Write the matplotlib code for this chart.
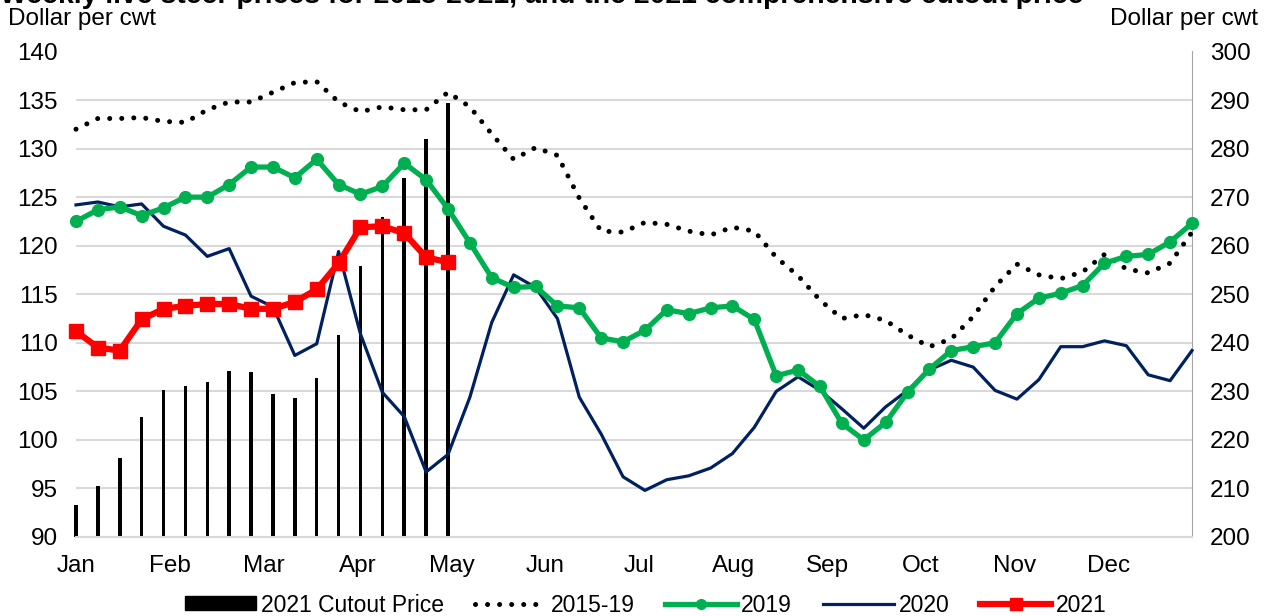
import matplotlib
matplotlib.use("Agg")

import numpy as np
import matplotlib.pyplot as plt
from matplotlib.lines import Line2D
from matplotlib.patches import Patch

plt.rcParams["font.family"] = ["Liberation Sans", "DejaVu Sans"]

# weekly values, week 1..52
avg_2015_19 = [132.0, 133.1, 133.1, 133.2, 132.8, 132.7, 134.0, 134.8, 134.8, 135.8,
               136.8, 136.9, 134.8, 133.8, 134.3, 134.0, 134.0, 135.8, 134.3, 131.5,
               128.9, 130.1, 129.3, 124.9, 121.5, 121.4, 122.4, 122.2, 121.5, 121.1,
               121.9, 121.5, 118.8, 116.9, 114.4, 112.5, 112.9, 112.3, 110.8, 109.6,
               110.4, 112.7, 115.8, 118.1, 117.0, 116.6, 117.3, 119.1, 117.6, 117.2,
               118.2, 121.4]
y2019 = [122.5, 123.7, 124.0, 123.1, 123.9, 125.0, 125.0, 126.3, 128.1, 128.1,
         127.0, 128.9, 126.3, 125.3, 126.1, 128.5, 126.8, 123.8, 120.3, 116.7,
         115.7, 115.8, 113.8, 113.6, 110.5, 110.1, 111.3, 113.4, 113.0, 113.6,
         113.8, 112.4, 106.6, 107.2, 105.5, 101.7, 100.0, 101.8, 104.9, 107.3,
         109.2, 109.6, 110.0, 113.0, 114.6, 115.1, 115.9, 118.2, 118.9, 119.1,
         120.4, 122.3]
y2020 = [124.2, 124.5, 124.0, 124.3, 122.0, 121.1, 118.9, 119.7, 114.8, 113.7,
         108.7, 109.9, 119.4, 110.9, 104.9, 102.4, 96.7, 98.5, 104.4, 112.1,
         117.0, 115.7, 112.5, 104.4, 100.6, 96.2, 94.8, 95.9, 96.3, 97.1,
         98.6, 101.3, 105.0, 106.5, 105.1, 103.2, 101.2, 103.4, 105.1, 107.2,
         108.2, 107.5, 105.1, 104.2, 106.2, 109.6, 109.6, 110.2, 109.7, 106.7,
         106.1, 109.2]
y2021 = [111.2, 109.5, 109.2, 112.4, 113.5, 113.8, 114.0, 114.0, 113.5, 113.5,
         114.2, 115.5, 118.2, 121.9, 122.0, 121.3, 118.8, 118.3]
cutout_2021 = [206.5, 210.5, 216.2, 224.7, 230.3, 231.0, 231.9, 234.1, 234.0, 229.4,
               228.6, 232.8, 241.7, 255.8, 265.9, 273.9, 281.9, 289.4]

months = ["Jan", "Feb", "Mar", "Apr", "May", "Jun",
          "Jul", "Aug", "Sep", "Oct", "Nov", "Dec"]

weeks = np.arange(len(y2019))
weeks21 = np.arange(len(y2021))

green = "#00B050"
navy = "#002060"
red = "#FF0000"
grid_c = "#D9D9D9"
fs = 17.5

fig = plt.figure(figsize=(12.64, 6.16), dpi=100)
ax2 = fig.add_axes([76 / 1264, 1 - 537 / 616, (1192 - 76) / 1264, (537 - 51.5) / 616])
ax = ax2.twinx()
# ax: left axis (lines) on top, ax2: right axis (bars) underneath
ax2.yaxis.tick_right()
ax.yaxis.tick_left()
ax.set_zorder(ax2.get_zorder() + 1)
ax.patch.set_visible(False)

# cutout bars (right axis)
ax2.bar(weeks21, np.array(cutout_2021) - 200, bottom=200, width=0.16,
        color="black", zorder=2, clip_on=False)
ax2.set_ylim(200, 300)
ax2.set_yticks(np.arange(200, 301, 10))
ax2.yaxis.grid(True, color=grid_c, linewidth=1.5, zorder=0)
ax2.set_axisbelow(True)

# price lines (left axis)
ax.plot(weeks, avg_2015_19, color="black", linewidth=3.6,
        linestyle=(0, (0.01, 2.4)), dash_capstyle="round", zorder=3, clip_on=False)
ax.plot(weeks, y2020, color=navy, linewidth=2.3, zorder=4, clip_on=False)
ax.plot(weeks, y2019, color=green, linewidth=3.8, marker="o", markersize=8.5,
        zorder=5, clip_on=False)
ax.plot(weeks21, y2021, color=red, linewidth=4.5, marker="s", markersize=9.5,
        zorder=6, clip_on=False)
ax.set_ylim(90, 140)
ax.set_yticks(np.arange(90, 141, 5))
ax.set_xlim(0, 51)

ax2.set_xticks(np.arange(12) * 4.29)
ax2.set_xticklabels(months)

for a in (ax, ax2):
    for s in a.spines.values():
        s.set_visible(False)
    a.tick_params(length=0, labelsize=fs)
ax.tick_params(axis="y", pad=13)
ax2.tick_params(axis="y", pad=13)
ax2.tick_params(axis="x", pad=13)
ax2.spines["right"].set_visible(True)
ax2.spines["right"].set_color("#A6A6A6")
ax2.spines["bottom"].set_visible(True)
ax2.spines["bottom"].set_color(grid_c)
ax2.spines["bottom"].set_linewidth(1.5)

fig.text(0.0, 1 - 3 / 616,
         "Weekly live steer prices for 2015-2021, and the 2021 comprehensive cutout price",
         fontsize=20.4, fontweight="bold", va="baseline", ha="left")
fig.text(8 / 1264, 1 - 19 / 616, "Dollar per cwt", fontsize=17.5, va="center", ha="left")
fig.text(1258 / 1264, 1 - 19 / 616, "Dollar per cwt", fontsize=17.5, va="center", ha="right")

handles = [
    Patch(facecolor="black", edgecolor="black"),
    Line2D([], [], color="black", linewidth=3.6, linestyle=(0, (0.01, 2.4)),
           dash_capstyle="round"),
    Line2D([], [], color=green, linewidth=3.8, marker="o", markersize=7),
    Line2D([], [], color=navy, linewidth=2.3),
    Line2D([], [], color=red, linewidth=4.5, marker="s", markersize=9),
]
labels = ["2021 Cutout Price", "2015-19", "2019", "2020", "2021"]
fig.legend(handles, labels, loc="center", bbox_to_anchor=(646 / 1264, 1 - 605 / 616),
           ncol=5, frameon=False, fontsize=16.5, handlelength=3.1, handleheight=0.55,
           handletextpad=0.2, columnspacing=1.35, numpoints=1)

fig.savefig("out.png", dpi=100)
